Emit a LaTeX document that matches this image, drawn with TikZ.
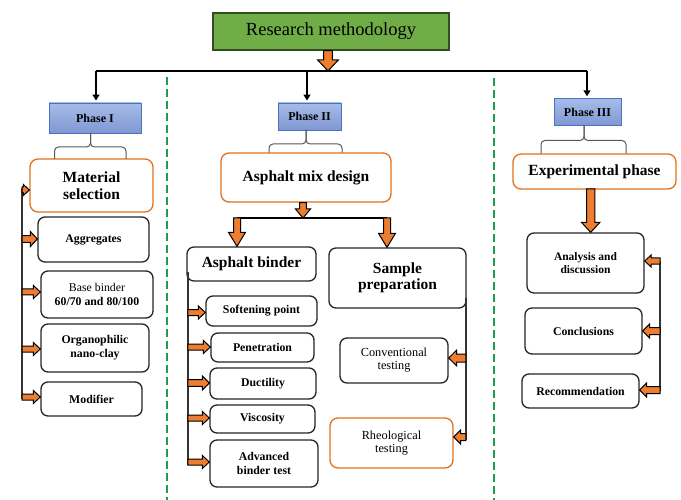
\documentclass[tikz,border=0pt]{standalone}
\usepackage{fontspec}
\setmainfont{Liberation Serif}
\usetikzlibrary{calc,arrows.meta}
\definecolor{rmgreen}{HTML}{70AD47}
\definecolor{rmgreenline}{HTML}{2F4F1F}
\definecolor{phfilltop}{HTML}{A6BCE8}
\definecolor{phfillbot}{HTML}{8097D3}
\definecolor{phline}{HTML}{4A72C0}
\definecolor{orfill}{HTML}{ED7D31}
\definecolor{orline}{HTML}{E2711D}
\definecolor{dashgreen}{HTML}{1E9E4A}
\definecolor{bracegray}{HTML}{595959}
\newcommand\fRM{\fontsize{18.5}{20}\selectfont}
\newcommand\fHead{\fontsize{15.5}{16.5}\selectfont\bfseries}
\newcommand\fSm{\fontsize{11.8}{13.8}\selectfont}
\newcommand\fPh{\fontsize{12}{13}\selectfont\bfseries}
\newcommand\blockarrow[5]{%
  \coordinate (ba-h) at ($(#2)!#5!(#1)$);
  \draw[blockarrowstyle] ($(#1)!#3!90:(#2)$) -- ($(ba-h)!#3!90:(#2)$) -- ($(ba-h)!#4!90:(#2)$) -- (#2) -- ($(ba-h)!#4!-90:(#2)$) -- ($(ba-h)!#3!-90:(#2)$) -- ($(#1)!#3!-90:(#2)$) -- cycle;}
\tikzset{
  blockarrowstyle/.style={draw=black, fill=orfill, line width=1pt, line join=miter},
  rmbox/.style={draw=rmgreenline, fill=rmgreen, line width=1.3pt, inner sep=0pt, font=\fRM},
  phbox/.style={draw=phline, top color=phfilltop, bottom color=phfillbot, line width=0.9pt, inner sep=0pt, font=\fPh},
  obox/.style={draw=orline, fill=white, rounded corners=8pt, line width=1.3pt, inner sep=0pt, align=center},
  kbox/.style={draw=black!85, fill=white, rounded corners=7pt, line width=1.3pt, inner sep=0pt, align=center},
  mainline/.style={draw=black, line width=1.5pt},
  droparrow/.style={draw=black, line width=1.5pt, -{Triangle[length=6pt,width=7pt]}, shorten >=2pt},
  spine/.style={draw=black!80, line width=1.7pt},
  bracestyle/.style={draw=bracegray, line width=1pt, rounded corners=4pt},
  dashline/.style={draw=dashgreen, line width=1.4pt, dash pattern=on 8pt off 4pt}
}
\begin{document}
\begin{tikzpicture}[x=1pt,y=-1pt]
\useasboundingbox[fill=white] (0,0) rectangle (681,500);
% dashed separators
\coordinate (d1t) at (167,77); \coordinate (d1b) at (167,500);
\coordinate (d2t) at (494,78); \coordinate (d2b) at (494,500);
\draw[dashline] (d1t) -- (d1b);
\draw[dashline] (d2t) -- (d2b);
% top
\node[rmbox, minimum width=236pt, minimum height=37pt] (rm) at (331,31.5) {Research methodology};
\node[phbox, minimum width=92pt, minimum height=30pt] (ph1) at (95,118) {Phase I};
\node[phbox, minimum width=63pt, minimum height=27pt] (ph2) at (309.5,116.5) {Phase II};
\node[phbox, minimum width=67pt, minimum height=26.5pt] (ph3) at (587.5,112) {Phase III};
\coordinate (c1) at (96,71); \coordinate (c2) at (307,71); \coordinate (c3) at (587,71);
\draw[mainline] (c1) -- (c3);
\draw[droparrow] (c1) -- (c1 |- ph1.north);
\draw[droparrow] (c2) -- (c2 |- ph2.north);
\draw[droparrow] (c3) -- (c3 |- ph3.north);
\coordinate (ra1) at ($(rm.south)+(-3,0)$); \coordinate (ra2) at (ra1 |- c1);
\blockarrow{ra1}{ra2}{4.3pt}{10.3pt}{11pt}
% Phase I column
\node[obox, minimum width=123pt, minimum height=53pt, font=\fHead] (mat) at (91.5,185.5) {Material\\selection};
\node[kbox, minimum width=111pt, minimum height=45pt, font=\fSm\bfseries] (agg) at (93.5,239.5) {Aggregates};
\node[kbox, minimum width=112pt, minimum height=47pt, font=\fSm] (base) at (97,294.5) {Base binder\\\textbf{60/70 and 80/100}};
\node[kbox, minimum width=108pt, minimum height=48pt, font=\fSm\bfseries] (org) at (95,348) {Organophilic\\nano-clay};
\node[kbox, minimum width=101pt, minimum height=34pt, font=\fSm\bfseries] (modi) at (91.5,399) {Modifier};
% braces
\coordinate (b1) at (90.5,133); \coordinate (b1l) at (54.5,159); \coordinate (b1r) at (126,159);
\draw[bracestyle] (b1) -- ++(0,14) -| (b1l);
\draw[bracestyle] (b1) -- ++(0,14) -| (b1r);
\coordinate (b2) at (306,130); \coordinate (b2l) at (269,153); \coordinate (b2r) at (342,153);
\draw[bracestyle] (b2) -- ++(0,14) -| (b2l);
\draw[bracestyle] (b2) -- ++(0,14) -| (b2r);
\coordinate (b3) at (584,125.5); \coordinate (b3l) at (541,154); \coordinate (b3r) at (626,154);
\draw[bracestyle] (b3) -- ++(0,15) -| (b3l);
\draw[bracestyle] (b3) -- ++(0,15) -| (b3r);
% Phase I spine
\coordinate (s1t) at (22,188); \coordinate (s1b) at (22,399);
\draw[spine] (s1t) -- (s1b);
\coordinate (s1a) at (22,190); \coordinate (s1ae) at (s1a -| mat.west);
\coordinate (s1b1) at (22,239); \coordinate (s1be) at (s1b1 -| agg.west);
\coordinate (s1c) at (22,292); \coordinate (s1ce) at (s1c -| base.west);
\coordinate (s1d) at (22,349); \coordinate (s1de) at (s1d -| org.west);
\coordinate (s1e) at (22,397); \coordinate (s1ee) at (s1e -| modi.west);
\blockarrow{s1a}{s1ae}{3pt}{5.5pt}{6pt}
\blockarrow{s1b1}{s1be}{3.3pt}{7.5pt}{7pt}
\blockarrow{s1c}{s1ce}{3pt}{6.5pt}{7pt}
\blockarrow{s1d}{s1de}{3pt}{6.5pt}{7pt}
\blockarrow{s1e}{s1ee}{3pt}{6.5pt}{7pt}
% Phase II column
\node[obox, minimum width=170pt, minimum height=49pt, font=\fHead] (amd) at (306,177.5) {Asphalt mix design};
\node[kbox, minimum width=129pt, minimum height=34pt, font=\fHead] (abin) at (251.5,264) {Asphalt binder};
\node[kbox, minimum width=137pt, minimum height=60pt, font=\fHead] (samp) at (397.5,278) {Sample\\preparation};
\coordinate (h2l) at (237,218); \coordinate (h2r) at (387,218);
\draw[mainline] (h2l) -- (h2r);
\coordinate (am1) at ($(amd.south)+(-3,0)$); \coordinate (am2) at (am1 |- h2l);
\blockarrow{am1}{am2}{3.4pt}{7.5pt}{9pt}
\coordinate (h2le) at (h2l |- abin.north); \coordinate (h2re) at (h2r |- samp.north);
\blockarrow{h2l}{h2le}{3.5pt}{8.5pt}{14pt}
\blockarrow{h2r}{h2re}{3.5pt}{8.5pt}{14pt}
\node[kbox, minimum width=111pt, minimum height=30pt, font=\fSm\bfseries] (soft) at (261.5,311) {Softening point};
\node[kbox, minimum width=103pt, minimum height=29pt, font=\fSm\bfseries] (pen) at (262.5,347.5) {Penetration};
\node[kbox, minimum width=106pt, minimum height=31pt, font=\fSm\bfseries] (duct) at (263,383.5) {Ductility};
\node[kbox, minimum width=105pt, minimum height=28pt, font=\fSm\bfseries] (visc) at (262.5,419) {Viscosity};
\node[kbox, minimum width=108pt, minimum height=47pt, font=\fSm\bfseries] (adv) at (264,463.5) {Advanced\\binder test};
\node[kbox, minimum width=108pt, minimum height=45pt, font=\fontsize{12.3}{13}\selectfont] (conv) at (394,360.5) {Conventional\\testing};
\node[obox, minimum width=123pt, minimum height=50pt, font=\fontsize{12.3}{13}\selectfont] (rheo) at (391.5,443) {Rheological\\testing};
% Phase II left spine
\coordinate (s2t) at (187.8,272); \coordinate (s2b) at (187.8,465);
\draw[spine] (s2t) -- (s2b);
\coordinate (s2a) at (187.8,312.5); \coordinate (s2ae) at (s2a -| soft.west);
\coordinate (s2b1) at (187.8,347); \coordinate (s2be) at (s2b1 -| pen.west);
\coordinate (s2c) at (187.8,383); \coordinate (s2ce) at (s2c -| duct.west);
\coordinate (s2d) at (187.8,418); \coordinate (s2de) at (s2d -| visc.west);
\coordinate (s2e) at (187.8,462); \coordinate (s2ee) at (s2e -| adv.west);
\blockarrow{s2a}{s2ae}{3pt}{6.5pt}{7pt}
\blockarrow{s2b1}{s2be}{3pt}{6.5pt}{7pt}
\blockarrow{s2c}{s2ce}{3.3pt}{7pt}{7pt}
\blockarrow{s2d}{s2de}{3pt}{6.5pt}{7pt}
\blockarrow{s2e}{s2ee}{3pt}{6.5pt}{7pt}
% Phase II right spine
\coordinate (s3t) at (465.8,298); \coordinate (s3b) at (465.8,440);
\draw[spine] (s3t) -- (s3b);
\coordinate (s3a) at (465.8,358); \coordinate (s3ae) at (s3a -| conv.east);
\coordinate (s3b1) at (465.8,437); \coordinate (s3be) at (s3b1 -| rheo.east);
\blockarrow{s3a}{s3ae}{4pt}{7.8pt}{8pt}
\blockarrow{s3b1}{s3be}{3.5pt}{7pt}{7pt}
% Phase III column
\node[obox, minimum width=163pt, minimum height=35pt, font=\fHead] (exp) at (594.5,171.5) {Experimental phase};
\node[kbox, minimum width=117pt, minimum height=60pt, font=\fontsize{11.5}{12.5}\selectfont\bfseries] (ana) at (585.5,263) {Analysis and\\discussion};
\node[kbox, minimum width=117pt, minimum height=46pt, font=\fSm\bfseries] (conc) at (583.5,331) {Conclusions};
\node[kbox, minimum width=117pt, minimum height=34pt, font=\fSm\bfseries] (rec) at (580.5,391) {Recommendation};
\coordinate (ex1) at (590.7,189); \coordinate (ex2) at (ex1 |- ana.north);
\blockarrow{ex1}{ex2}{4.2pt}{9.2pt}{10pt}
\coordinate (s4t) at (660,261); \coordinate (s4b) at (660,391);
\draw[spine] (s4t) -- (s4b);
\coordinate (s4a) at (660,261); \coordinate (s4ae) at (s4a -| ana.east);
\coordinate (s4b1) at (660,331); \coordinate (s4be) at (s4b1 -| conc.east);
\coordinate (s4c) at (660,390); \coordinate (s4ce) at (s4c -| rec.east);
\blockarrow{s4a}{s4ae}{3.2pt}{6pt}{6.5pt}
\blockarrow{s4b1}{s4be}{3.5pt}{7pt}{7pt}
\blockarrow{s4c}{s4ce}{3.5pt}{7pt}{7pt}
\end{tikzpicture}
\end{document}
